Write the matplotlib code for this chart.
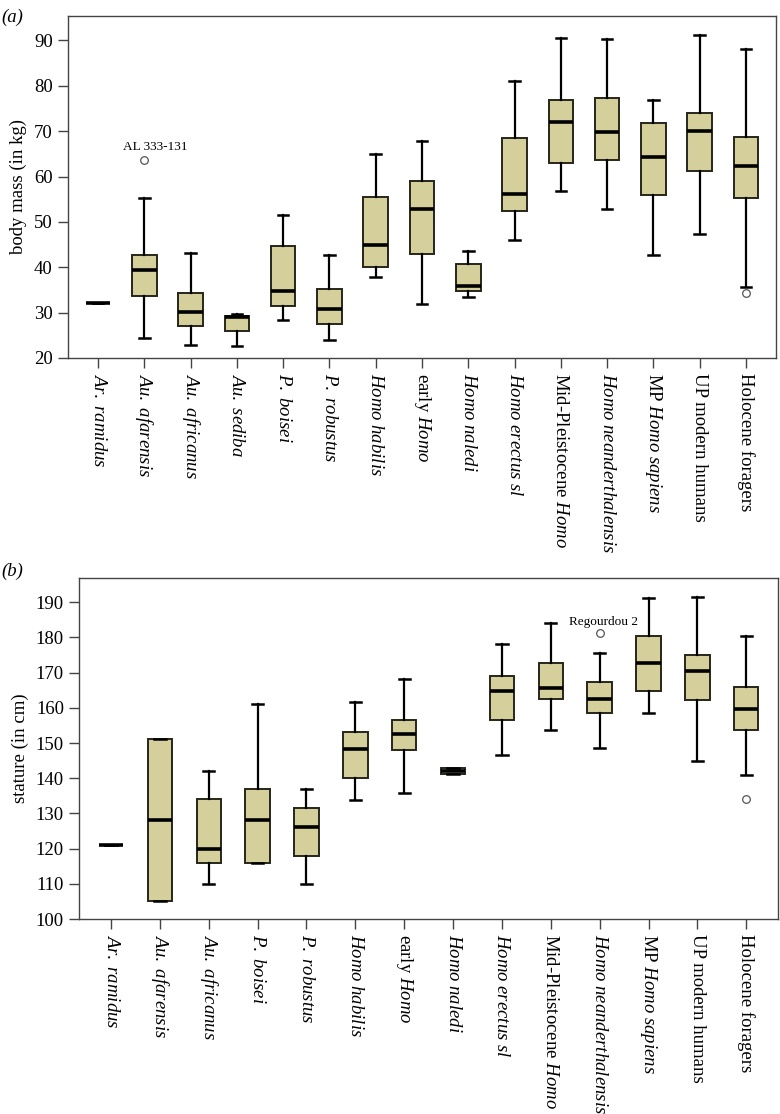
import matplotlib
matplotlib.use("Agg")
import matplotlib.pyplot as plt

plt.rcParams['font.family'] = ['Liberation Serif', 'DejaVu Serif']
plt.rcParams['mathtext.fontset'] = 'custom'
plt.rcParams['mathtext.rm'] = 'Liberation Serif'
plt.rcParams['mathtext.it'] = 'Liberation Serif:italic'

# ---- (a) body mass (kg) ----
mass_labels = [r'$\mathit{Ar.\ ramidus}$', r'$\mathit{Au.\ afarensis}$', r'$\mathit{Au.\ africanus}$',
               r'$\mathit{Au.\ sediba}$', r'$\mathit{P.\ boisei}$', r'$\mathit{P.\ robustus}$',
               r'$\mathit{Homo\ habilis}$', r'early $\mathit{Homo}$', r'$\mathit{Homo\ naledi}$',
               r'$\mathit{Homo\ erectus\ sl}$', r'Mid-Pleistocene $\mathit{Homo}$',
               r'$\mathit{Homo\ neanderthalensis}$', r'MP $\mathit{Homo\ sapiens}$',
               'UP modern humans', 'Holocene foragers']
mass_lo = [32.1, 24.5, 22.8, 22.7, 28.4, 24.0, 37.9, 32.0, 33.5, 46.0, 56.8, 52.9, 42.6, 47.3, 35.6]
mass_q1 = [32.1, 33.7, 27.0, 25.9, 31.4, 27.6, 40.0, 42.9, 34.8, 52.4, 63.1, 63.6, 55.9, 61.2, 55.2]
mass_med = [32.1, 39.3, 30.1, 29.0, 34.8, 30.8, 45.0, 52.9, 35.9, 56.2, 72.0, 69.8, 64.3, 70.1, 62.3]
mass_q3 = [32.1, 42.6, 34.3, 29.3, 44.8, 35.3, 55.4, 59.0, 40.8, 68.6, 76.8, 77.4, 71.8, 74.1, 68.7]
mass_hi = [32.1, 55.2, 43.2, 29.6, 51.5, 42.6, 64.9, 67.9, 43.5, 81.0, 90.6, 90.4, 76.8, 91.3, 88.1]
mass_out = {1: [63.7], 14: [34.4]}

# ---- (b) stature (cm) ----
stat_labels = [r'$\mathit{Ar.\ ramidus}$', r'$\mathit{Au.\ afarensis}$', r'$\mathit{Au.\ africanus}$',
               r'$\mathit{P.\ boisei}$', r'$\mathit{P.\ robustus}$',
               r'$\mathit{Homo\ habilis}$', r'early $\mathit{Homo}$', r'$\mathit{Homo\ naledi}$',
               r'$\mathit{Homo\ erectus\ sl}$', r'Mid-Pleistocene $\mathit{Homo}$',
               r'$\mathit{Homo\ neanderthalensis}$', r'MP $\mathit{Homo\ sapiens}$',
               'UP modern humans', 'Holocene foragers']
stat_lo = [121.0, 105.0, 110.0, 116.0, 110.0, 133.8, 135.8, 141.2, 146.7, 153.6, 148.7, 158.5, 144.8, 141.0]
stat_q1 = [121.0, 105.0, 116.0, 116.0, 118.0, 140.2, 148.0, 141.2, 156.6, 162.5, 158.5, 164.8, 162.2, 153.7]
stat_med = [121.0, 128.0, 120.0, 128.0, 126.0, 148.4, 152.6, 142.1, 164.9, 165.7, 162.4, 172.6, 170.6, 159.8]
stat_q3 = [121.0, 151.0, 134.0, 137.0, 131.5, 153.2, 156.5, 143.0, 169.1, 172.7, 167.2, 180.5, 174.9, 165.9]
stat_hi = [121.0, 151.0, 142.0, 161.2, 137.0, 161.7, 168.1, 143.0, 178.0, 184.2, 175.7, 191.3, 191.6, 180.4]
stat_out = {10: [181.2], 13: [134.1]}

BOX = "#D5D09B"
EDGE = "#26261a"
SPINE = "#444444"


def draw_panel(ax, labels, lo, q1, med, q3, hi, outliers, width):
    stats = []
    for i in range(len(labels)):
        stats.append(dict(whislo=lo[i], q1=q1[i], med=med[i], q3=q3[i], whishi=hi[i],
                          fliers=outliers.get(i, [])))
    ax.bxp(stats, positions=range(len(labels)), widths=width, patch_artist=True,
           showcaps=True, capwidths=0.23,
           boxprops=dict(facecolor=BOX, edgecolor=EDGE, linewidth=1.4),
           medianprops=dict(color="black", linewidth=2.6, solid_capstyle="butt"),
           whiskerprops=dict(color="black", linewidth=1.6),
           capprops=dict(color="black", linewidth=1.8),
           flierprops=dict(marker="o", markerfacecolor="white", markeredgecolor="#555555",
                           markersize=5.5, markeredgewidth=0.9))
    ax.set_xlim(-0.65, len(labels) - 0.35)
    ax.set_xticks(range(len(labels)))
    ax.set_xticklabels(labels, rotation=270, fontsize=13.5, va="top", ha="center")
    for s in ax.spines.values():
        s.set_color(SPINE)
        s.set_linewidth(1.0)
    ax.tick_params(direction="out", length=7, width=1.0, color=SPINE, labelsize=13.5, pad=4)


fig = plt.figure(figsize=(7.8, 11.14), dpi=100)

ax1 = fig.add_axes([68 / 780, 1 - 358 / 1114, (776 - 68) / 780, (358 - 16) / 1114])
draw_panel(ax1, mass_labels, mass_lo, mass_q1, mass_med, mass_q3, mass_hi, mass_out, 0.53)
ax1.set_ylim(20, 95.4)
ax1.set_yticks(range(20, 91, 10))
ax1.set_ylabel("body mass (in kg)", fontsize=13.5, labelpad=5)
ax1.text(1.24, 63.7 + 1.6, "AL 333-131", fontsize=9.5, ha="center", va="bottom")
fig.text(0.002, 0.992, "(a)", fontsize=13.5, fontstyle="italic", va="top")

ax2 = fig.add_axes([79.3 / 780, 1 - 919 / 1114, (778 - 79.3) / 780, (919 - 578.3) / 1114])
draw_panel(ax2, stat_labels, stat_lo, stat_q1, stat_med, stat_q3, stat_hi, stat_out, 0.5)
ax2.set_ylim(100, 196.8)
ax2.set_yticks(range(100, 191, 10))
ax2.set_ylabel("stature (in cm)", fontsize=13.5, labelpad=5)
ax2.text(10.08, 181.2 + 1.6, "Regourdou 2", fontsize=9.5, ha="center", va="bottom")
fig.text(0.002, 1 - 563 / 1114, "(b)", fontsize=13.5, fontstyle="italic", va="top")

fig.savefig("out.png", dpi=100)
